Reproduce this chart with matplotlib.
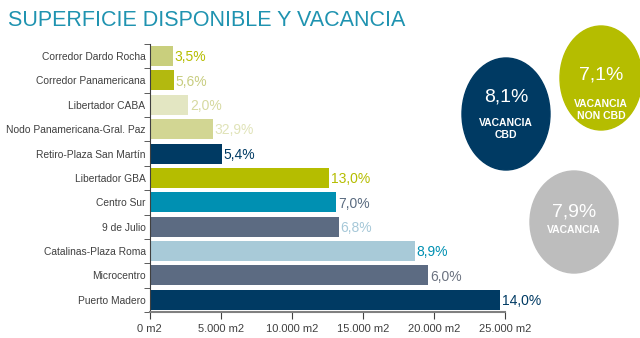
import matplotlib.pyplot as plt
from matplotlib.patches import Ellipse

plt.rcParams['font.family'] = ['Liberation Sans', 'DejaVu Sans']

zonas = ['Corredor Dardo Rocha', 'Corredor Panamericana', 'Libertador CABA',
         'Nodo Panamericana-Gral. Paz', 'Retiro-Plaza San Martín', 'Libertador GBA',
         'Centro Sur', '9 de Julio', 'Catalinas-Plaza Roma', 'Microcentro', 'Puerto Madero']
superficie = [1600, 1700, 2700, 4450, 5050, 12600, 13100, 13300, 18650, 19600, 24650]
vacancia = ['3,5%', '5,6%', '2,0%', '32,9%', '5,4%', '13,0%', '7,0%', '6,8%', '8,9%', '6,0%', '14,0%']
bar_colors = ['#c9cf7d', '#b3b90f', '#e3e6c2', '#d2d693', '#003a63', '#b5bd00',
              '#0090b2', '#5c6b82', '#a8cad8', '#5c6b82', '#003a63']
label_colors = ['#b5bd00', '#c8cd80', '#d6d9a0', '#e0e3b8', '#003a63', '#b5bd00',
                '#5a6b80', '#a6c8d8', '#0090b2', '#6b7280', '#003a63']
xticks = [0, 5000, 10000, 15000, 20000, 25000]
xticklabels = ['0 m2', '5.000 m2', '10.000 m2', '15.000 m2', '20.000 m2', '25.000 m2']

circ_vals = ['8,1%', '7,1%', '7,9%']
circ_labels = ['VACANCIA\nCBD', 'VACANCIA\nNON CBD', 'VACANCIA']
circ_colors = ['#003a63', '#b5bd00', '#bdbdbd']

fig = plt.figure(figsize=(6.4, 3.38), dpi=100)
ax = fig.add_axes([0.234, 0.077, 0.5555, 0.793])

y = list(range(len(zonas)))[::-1]
ax.barh(y, superficie, height=0.82, color=bar_colors)
for yi, v, lab, c in zip(y, superficie, vacancia, label_colors):
    ax.text(v + 120, yi - 0.05, lab, color=c, fontsize=10, va='center', ha='left')

ax.set_xlim(0, 25000)
ax.set_ylim(-0.5, 10.5)
ax.set_xticks(xticks)
ax.set_xticklabels(xticklabels, fontsize=8, color='#404040')
ax.set_yticks(y)
ax.set_yticklabels(zonas, fontsize=7.4, color='#404040')
ax.tick_params(axis='y', length=0, pad=3)
ax.set_yticks([i + 0.5 for i in range(-1, 11)], minor=True)
ax.tick_params(axis='y', which='minor', length=4, color='#404040')
ax.tick_params(axis='x', length=5, color='#404040', pad=4)
for s in ['top', 'right']:
    ax.spines[s].set_visible(False)
ax.spines['left'].set_color('#404040')
ax.spines['bottom'].set_color('#808080')
ax.spines['bottom'].set_linewidth(1.5)

fig.text(0.012, 0.94, 'SUPERFICIE DISPONIBLE Y VACANCIA', color='#1f93b0',
         fontsize=15.5, va='center', ha='left')

ov = fig.add_axes([0, 0, 1, 1])
ov.set_xlim(0, 640)
ov.set_ylim(338, 0)
ov.axis('off')
centers = [(506, 114), (601, 78), (574, 222)]
sizes = [(88, 112), (82, 104), (88, 102)]
offsets = [(-17, 15), (-3, 32), (-10, 8)]
for (cx, cy), (w, h), (dv, dl), val, lab, col in zip(centers, sizes, offsets, circ_vals, circ_labels, circ_colors):
    ov.add_patch(Ellipse((cx, cy), w, h, color=col))
    ov.text(cx, cy + dv, val, color='white', fontsize=14, ha='center', va='center')
    ov.text(cx, cy + dl, lab, color='white', fontsize=7.5, ha='center', va='center',
            linespacing=1.2, fontweight='bold')

plt.savefig('out.png', dpi=100)
